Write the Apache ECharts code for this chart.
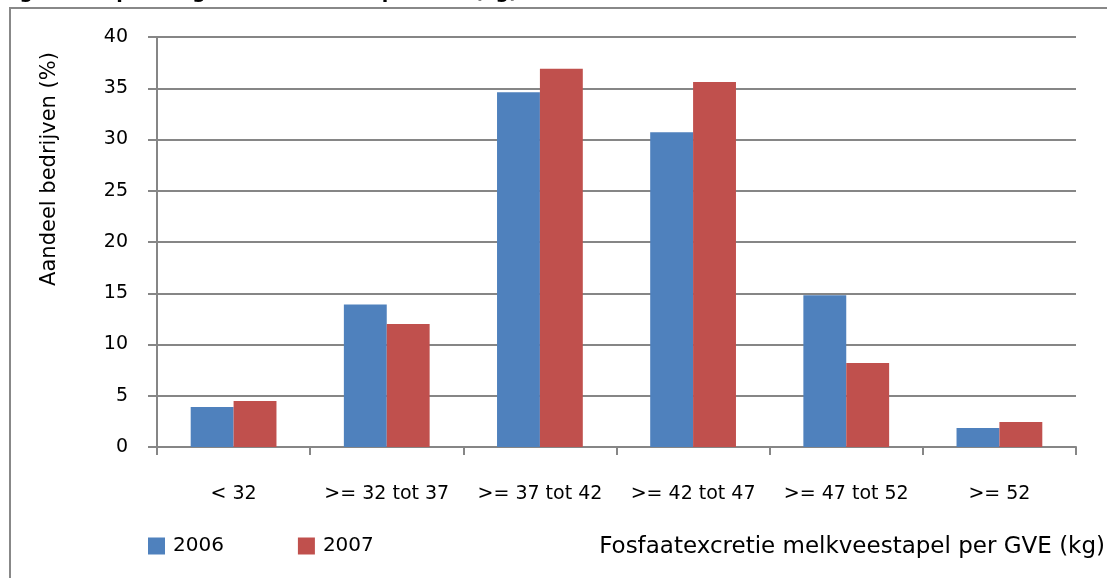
<!DOCTYPE html>
<html>
<head>
<meta charset="utf-8">
<script src="https://cdn.jsdelivr.net/npm/echarts@6/dist/echarts.min.js"></script>
<style>
html, body { margin: 0; padding: 0; background: #fff; }
#chart { width: 1107px; height: 578px; }
</style>
</head>
<body>
<div id="chart"></div>
<script>
var categories = ['< 32', '>= 32 tot 37', '>= 37 tot 42', '>= 42 tot 47', '>= 47 tot 52', '>= 52'];
var data2006 = [3.9, 13.9, 34.6, 30.7, 14.8, 1.85];
var data2007 = [4.5, 12.0, 36.9, 35.6, 8.2, 2.45];
var yTicks = [0, 5, 10, 15, 20, 25, 30, 35, 40];

var font = 'DejaVu Sans';
var myChart = echarts.init(document.getElementById('chart'));
var option = {
    animation: false,
    color: ['#4F81BD', '#C0504D'],
    textStyle: { fontFamily: font },
    legend: {
        left: 148,
        top: 536,
        padding: 0,
        itemWidth: 17,
        itemHeight: 17,
        itemGap: 74,
        icon: 'rect',
        textStyle: { fontSize: 20, color: '#000', fontFamily: font, padding: [0, 0, 0, 3] },
        data: ['2006', '2007']
    },
    grid: {
        left: 157,
        top: 37,
        right: 31,
        bottom: 131
    },
    xAxis: {
        type: 'category',
        data: categories,
        axisLine: { lineStyle: { color: '#868686', width: 2 } },
        axisTick: { show: true, length: 8, lineStyle: { color: '#868686', width: 2 } },
        axisLabel: { margin: 38, fontSize: 19, color: '#000', fontFamily: font, interval: 0 }
    },
    yAxis: {
        type: 'value',
        min: yTicks[0],
        max: yTicks[yTicks.length - 1],
        interval: 5,
        axisLine: { show: true, lineStyle: { color: '#868686', width: 2 } },
        axisTick: { show: true, length: 9, lineStyle: { color: '#868686', width: 2 } },
        splitLine: { lineStyle: { color: '#868686', width: 2 } },
        axisLabel: { margin: 29, fontSize: 19, color: '#000', fontFamily: font }
    },
    graphic: [
        {
            type: 'rect',
            shape: { x: 10, y: 8, width: 1200, height: 700 },
            style: { fill: 'none', stroke: '#888', lineWidth: 2 },
            silent: true
        },
        {
            type: 'text',
            left: 0,
            top: -16,
            style: { text: 'Figuur 3  Spreiding fosfaatexcretie per GVE (kg)', font: 'bold 19px ' + font, fill: '#000' }
        },
        {
            type: 'text',
            x: 50,
            y: 169,
            rotation: Math.PI / 2,
            style: { text: 'Aandeel bedrijven (%)', font: '21px ' + font, fill: '#000', textAlign: 'center', textVerticalAlign: 'middle' }
        },
        {
            type: 'text',
            right: 2,
            top: 536,
            style: { text: 'Fosfaatexcretie melkveestapel per GVE (kg)', font: '23px ' + font, fill: '#000' }
        }
    ],
    series: [
        {
            name: '2006',
            type: 'bar',
            barWidth: '28%',
            barGap: '0%',
            data: data2006
        },
        {
            name: '2007',
            type: 'bar',
            barWidth: '28%',
            barGap: '0%',
            data: data2007
        }
    ]
};
myChart.setOption(option);
</script>
</body>
</html>
